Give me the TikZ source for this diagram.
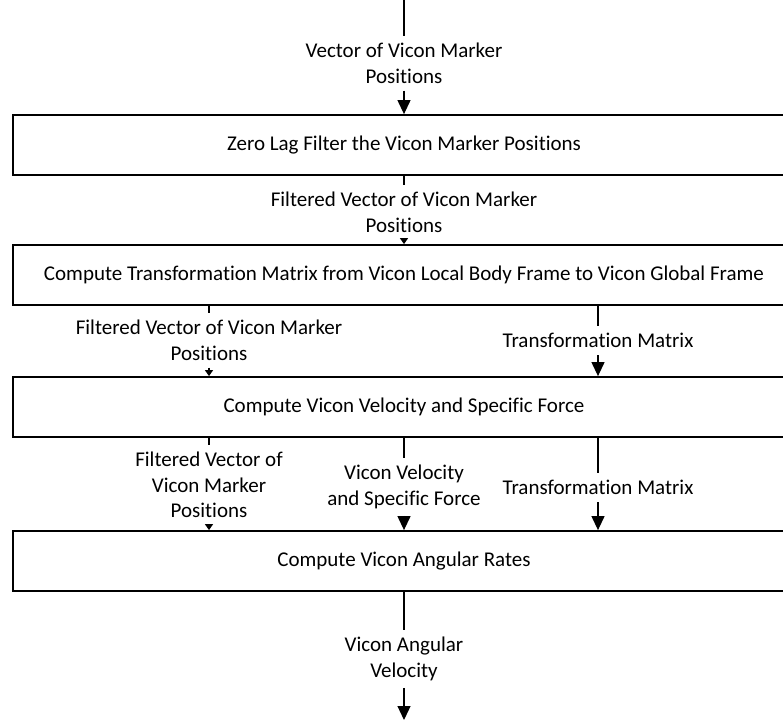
\documentclass[tikz,border=0pt]{standalone}
\usepackage{fontspec}
\setmainfont{Carlito}[Ligatures=NoCommon]
\usetikzlibrary{arrows.meta}
\tikzset{
  blk/.style={draw,line width=1.8pt,minimum width=782pt,minimum height=60pt,inner sep=0pt,
    text height=1em,text depth=0pt},
  lab/.style={align=center,inner xsep=2pt,inner ysep=7pt,anchor=north},
  fl/.style={line width=1.2pt},
  arr/.style={-{Triangle[length=14pt,width=13pt]},line width=1.2pt},
  arrk/.style={-{Triangle[length=6pt,width=8pt]},line width=1.2pt},
}

\begin{document}
\begin{tikzpicture}[x=1pt,y=-1pt,font=\fontsize{21}{25.5}\selectfont]
  \useasboundingbox (0,0) rectangle (783,722);
  % process blocks
  \node[blk] (filt) at (404,145) {Zero Lag Filter the Vicon Marker Positions};
  \node[blk] (trans) at (404,275) {Compute Transformation Matrix from Vicon Local Body Frame to Vicon Global Frame};
  \node[blk] (vel) at (404,407) {Compute Vicon Velocity and Specific Force};
  \node[blk] (rate) at (404,561) {Compute Vicon Angular Rates};
  % signals
  \coordinate (in) at (404,0);
  \coordinate (out) at (404,720);
  \node[lab] (pos) at (404,36) {Vector of Vicon Marker\\Positions};
  \node[lab] (fpos) at (404,185) {Filtered Vector of Vicon Marker\\Positions};
  \node[lab] (fposa) at (209,313) {Filtered Vector of Vicon Marker\\Positions};
  \node[lab] (tma) at (598,326) {Transformation Matrix};
  \node[lab] (fposb) at (209,445) {Filtered Vector of\\Vicon Marker\\Positions};
  \node[lab] (vsf) at (404,458) {Vicon Velocity\\and Specific Force};
  \node[lab] (tmb) at (598,473) {Transformation Matrix};
  \node[lab] (ang) at (404,630) {Vicon Angular\\Velocity};
  % flow
  \draw[fl] (in) -- (pos);
  \draw[arr] (pos) -- (filt);
  \draw[fl] (filt) -- (fpos);
  \draw[arrk] (fpos) -- (trans);
  \draw[fl] (trans.south -| fposa) -- (fposa);
  \draw[arrk] (fposa) -- (vel.north -| fposa);
  \draw[fl] (trans.south -| tma) -- (tma);
  \draw[arr] (tma) -- (vel.north -| tma);
  \draw[fl] (vel.south -| fposb) -- (fposb);
  \draw[arrk] (fposb) -- (rate.north -| fposb);
  \draw[fl] (vel) -- (vsf);
  \draw[arr] (vsf) -- (rate);
  \draw[fl] (vel.south -| tmb) -- (tmb);
  \draw[arr] (tmb) -- (rate.north -| tmb);
  \draw[fl] (rate) -- (ang);
  \draw[arr] (ang) -- (out);
\end{tikzpicture}
\end{document}
